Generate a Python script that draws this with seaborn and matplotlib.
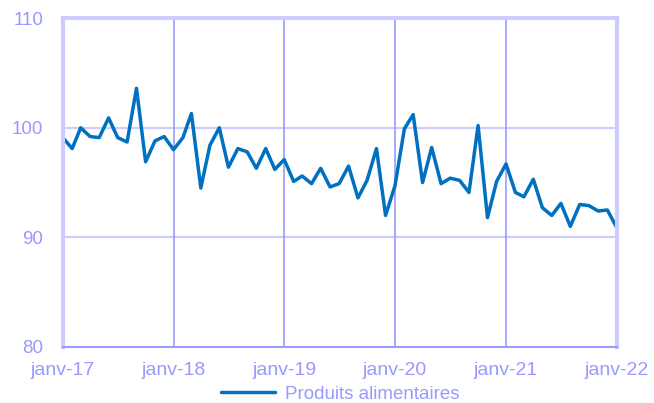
import pandas as pd
import matplotlib.pyplot as plt
import seaborn as sns
import numpy as np

# monthly index, janv-17 .. janv-22
start_month = '2017-01-01'
values = [99.1, 98.1, 100.0, 99.2, 99.1, 100.9, 99.1, 98.7, 103.6, 96.9, 98.8, 99.2,
          98.0, 99.1, 101.3, 94.5, 98.4, 100.0, 96.4, 98.1, 97.8, 96.3, 98.1, 96.2,
          97.1, 95.1, 95.6, 94.9, 96.3, 94.6, 94.9, 96.5, 93.6, 95.2, 98.1, 92.0,
          94.7, 99.9, 101.2, 95.0, 98.2, 94.9, 95.4, 95.2, 94.1, 100.2, 91.8, 95.1,
          96.7, 94.1, 93.7, 95.3, 92.7, 92.0, 93.1, 91.0, 93.0, 92.9, 92.4, 92.5,
          90.9]
series_name = 'Produits alimentaires'
tick_labels = ['janv-17', 'janv-18', 'janv-19', 'janv-20', 'janv-21', 'janv-22']
y_ticks = [80, 90, 100, 110]

df = pd.DataFrame({'date': pd.date_range(start_month, periods=len(values), freq='MS'),
                   'value': values})
df['serie'] = series_name

sns.set_style('white')
plt.rcParams['font.family'] = ['Liberation Sans', 'DejaVu Sans']
lav = '#9999ff'
light = '#ccccff'

fig = plt.figure(figsize=(6.54, 4.03), dpi=100)
ax = fig.add_axes([0.096, 0.139, 0.847, 0.816])

sns.lineplot(data=df, x='date', y='value', hue='serie', palette=['#0070c0'],
             linewidth=2.5, ax=ax, legend=True)

tick_dates = pd.date_range(start_month, periods=len(tick_labels), freq='12MS')
ax.set_xlim(tick_dates[0], tick_dates[-1])
ax.set_ylim(y_ticks[0], y_ticks[-1])
ax.set_xticks(tick_dates)
ax.set_xticklabels(tick_labels)
ax.set_yticks(y_ticks)

for y in y_ticks[1:-1]:
    ax.axhline(y, color=light, linewidth=1.5, zorder=0)
for d in tick_dates[1:-1]:
    ax.axvline(d, color=lav, linewidth=1.2, zorder=0)

for side in ['left', 'right', 'top']:
    ax.spines[side].set_color(light)
    ax.spines[side].set_linewidth(3)
ax.spines['bottom'].set_color(lav)
ax.spines['bottom'].set_linewidth(1.5)

ax.tick_params(axis='x', colors=lav, labelsize=14, length=4, width=1.2, direction='out', pad=7)
ax.tick_params(axis='y', colors=lav, labelsize=13.5, length=0, pad=14)
ax.set_xlabel('')
ax.set_ylabel('')

ax.get_legend().remove()
handles, labels = ax.get_legend_handles_labels()
leg = fig.legend(handles, labels, loc='center', bbox_to_anchor=(0.52, 0.022),
                 frameon=False, fontsize=13.5, handlelength=2.9, handletextpad=0.5,
                 borderpad=0)
for t in leg.get_texts():
    t.set_color(lav)

fig.savefig('out.png', dpi=100)
